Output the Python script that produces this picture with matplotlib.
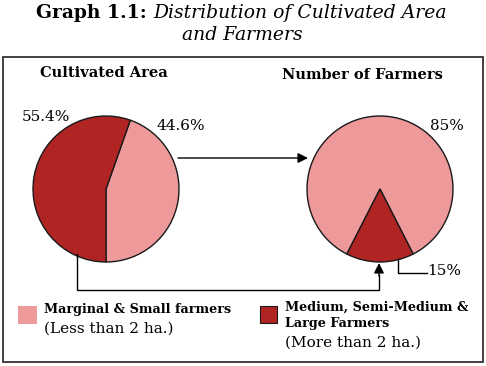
import matplotlib
matplotlib.use("Agg")
import matplotlib.pyplot as plt
from matplotlib.patches import Rectangle, FancyArrowPatch

# Data
labels = ["Marginal & Small farmers", "Medium, Semi-Medium & Large Farmers"]
area_share = [44.6, 55.4]
farmer_share = [85, 15]
colors = ["#EF9A9A", "#B02424"]

W, H = 486, 366
fig = plt.figure(figsize=(W / 100, H / 100), dpi=100)
ax = fig.add_axes([0, 0, 1, 1])

def Y(y):
    return H - y

serif = ["DejaVu Serif", "Liberation Serif"]
R = 73

# Pies
ax.pie(area_share, colors=colors, startangle=270, counterclock=True,
       center=(106, Y(189)), radius=R, frame=True,
       wedgeprops=dict(edgecolor="#1a1a1a", linewidth=1.0))
ax.pie(farmer_share, colors=colors, startangle=297, counterclock=True,
       center=(380, Y(189)), radius=R, frame=True,
       wedgeprops=dict(edgecolor="#1a1a1a", linewidth=1.0))
ax.set_xlim(0, W)
ax.set_ylim(0, H)
ax.set_aspect("equal")
ax.axis("off")

# Frame box
ax.add_patch(Rectangle((3, Y(362)), 480, 305, fill=False,
                       edgecolor="#333333", linewidth=1.3, zorder=5))

# Title
ax.text(147, Y(13), "Graph 1.1:", ha="right", va="center",
        fontfamily=serif, fontweight="bold", fontsize=13.5)
ax.text(153, Y(13), "Distribution of Cultivated Area", ha="left", va="center",
        fontfamily=serif, fontstyle="italic", fontsize=13.5)
ax.text(242, Y(35), "and Farmers", ha="center", va="center",
        fontfamily=serif, fontstyle="italic", fontsize=13.5)

# Section titles
ax.text(104, Y(73), "Cultivated Area", ha="center", va="center",
        fontfamily=serif, fontweight="bold", fontsize=10.5)
ax.text(362, Y(75), "Number of Farmers", ha="center", va="center",
        fontfamily=serif, fontweight="bold", fontsize=10.5)

# Percent labels
ax.text(46, Y(117), f"{area_share[1]}%", ha="center", va="center",
        fontfamily=serif, fontsize=11)
ax.text(181, Y(126), f"{area_share[0]}%", ha="center", va="center",
        fontfamily=serif, fontsize=11)
ax.text(447, Y(126), f"{farmer_share[0]}%", ha="center", va="center",
        fontfamily=serif, fontsize=11)
ax.text(444, Y(271), f"{farmer_share[1]}%", ha="center", va="center",
        fontfamily=serif, fontsize=11)

# Leader line for 15%
ax.plot([398, 398, 427], [Y(259), Y(273), Y(273)], color="black", lw=1.0)

# Top arrow
ax.add_patch(FancyArrowPatch((178, Y(158)), (308, Y(158)),
                             arrowstyle="-|>,head_length=6,head_width=3",
                             color="black", lw=1.0, shrinkA=0, shrinkB=0, zorder=6))
# Bottom connector
ax.plot([77, 77, 379, 379], [Y(254), Y(290), Y(290), Y(275)],
        color="black", lw=1.0, solid_joinstyle="miter")
ax.add_patch(FancyArrowPatch((379, Y(276)), (379, Y(263)),
                             arrowstyle="-|>,head_length=6,head_width=3",
                             color="black", lw=1.0, shrinkA=0, shrinkB=0, zorder=6))

# Legend
ax.add_patch(Rectangle((18, Y(324)), 19, 18, facecolor=colors[0], edgecolor="none"))
ax.add_patch(Rectangle((260, Y(323)), 17, 17, facecolor=colors[1],
                       edgecolor="#1a1a1a", linewidth=0.8))
ax.text(44, Y(310), labels[0], ha="left", va="center",
        fontfamily=serif, fontweight="bold", fontsize=9.2)
ax.text(44, Y(329), "(Less than 2 ha.)", ha="left", va="center",
        fontfamily=serif, fontsize=11)
ax.text(285, Y(307), "Medium, Semi-Medium &", ha="left", va="center",
        fontfamily=serif, fontweight="bold", fontsize=9.2)
ax.text(285, Y(324), "Large Farmers", ha="left", va="center",
        fontfamily=serif, fontweight="bold", fontsize=9.2)
ax.text(285, Y(343), "(More than 2 ha.)", ha="left", va="center",
        fontfamily=serif, fontsize=11)

fig.savefig("out.png", dpi=100, facecolor="white")
